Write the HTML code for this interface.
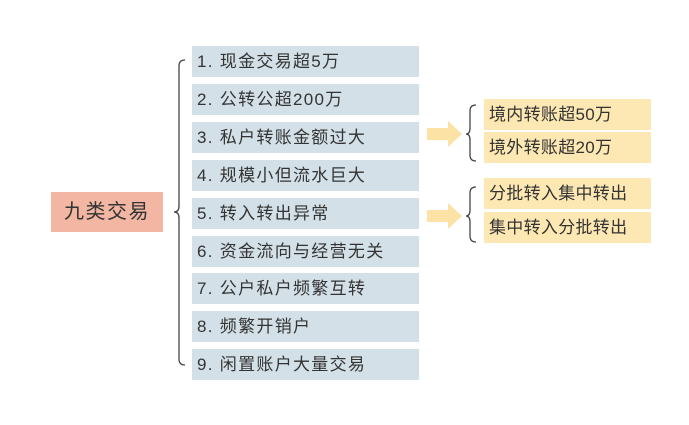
<!DOCTYPE html>
<html><head><meta charset="utf-8"><style>
body{margin:0;width:689px;height:425px;background:#fff;position:relative;overflow:hidden;font-family:"Liberation Sans","Noto Sans CJK SC",sans-serif;color:#333;}
.b{position:absolute;left:192px;width:227px;height:31px;background:#d3e0e8;font-size:17px;letter-spacing:1.3px;line-height:31px;padding-left:5px;box-sizing:border-box;}
.y{position:absolute;left:484px;width:167px;height:31px;background:#fde8b3;font-size:17px;letter-spacing:0.3px;line-height:31px;padding-left:5px;box-sizing:border-box;}
.m{position:absolute;left:51px;top:192px;width:112px;height:40px;background:#f2b6a3;font-size:20px;letter-spacing:1.5px;line-height:40px;text-align:center;}
svg{position:absolute;left:0;top:0;}
</style></head><body>
<div class="m">九类交易</div>
<div class="b" style="top:46px">1. 现金交易超5万</div>
<div class="b" style="top:84px">2. 公转公超200万</div>
<div class="b" style="top:122px">3. 私户转账金额过大</div>
<div class="b" style="top:160px">4. 规模小但流水巨大</div>
<div class="b" style="top:198px">5. 转入转出异常</div>
<div class="b" style="top:236px">6. 资金流向与经营无关</div>
<div class="b" style="top:273px">7. 公户私户频繁互转</div>
<div class="b" style="top:311px">8. 频繁开销户</div>
<div class="b" style="top:349px">9. 闲置账户大量交易</div>
<div class="y" style="top:99px">境内转账超50万</div>
<div class="y" style="top:132px">境外转账超20万</div>
<div class="y" style="top:178px">分批转入集中转出</div>
<div class="y" style="top:212px">集中转入分批转出</div>
<svg width="689" height="425">
<g fill="none" stroke="#444" stroke-width="1.3">
<path d="M185 60 Q179 60 179 66 L179 206 Q179 212 174 212 Q179 212 179 218 L179 359 Q179 365 185 365"/>
<path d="M476 105 Q470 105 470 111 L470 128 Q470 134 466 134 Q470 134 470 140 L470 155 Q470 161 476 161"/>
<path d="M476 187 Q470 187 470 193 L470 210 Q470 216 466 216 Q470 216 470 222 L470 236 Q470 242 476 242"/>
</g>
<g fill="#fce2a4">
<polygon points="427,128 448,128 448,121 462,134 448,147 448,140 427,140"/>
<polygon points="427,210 448,210 448,203 462,216 448,229 448,222 427,222"/>
</g>
</svg>
</body></html>
